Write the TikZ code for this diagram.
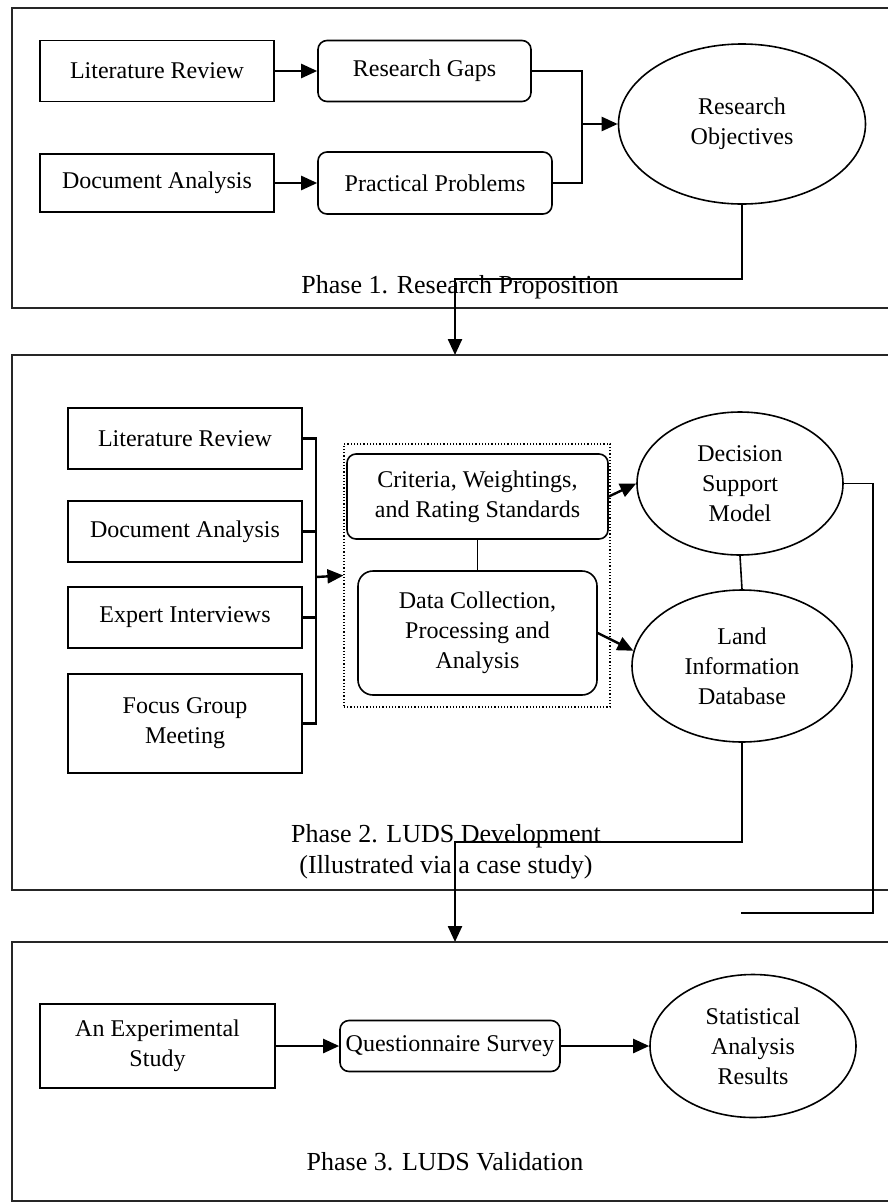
\documentclass[tikz,border=0pt]{standalone}
\usepackage{fontspec}
\setmainfont{Liberation Serif}
\usetikzlibrary{arrows.meta,%
		shapes.geometric,%
		positioning}

\tikzset{
rett/.style={draw, line width=1.6pt, minimum width=234pt, minimum height=61pt, inner sep=0pt, align=center},
arrot/.style={rett, rounded corners=9pt},
ell/.style={draw, ellipse, line width=1.6pt, inner sep=0pt, align=center},
linea/.style={line width=2.4pt},
freccia/.style={line width=2.4pt, -{Triangle[length=16pt,width=14pt]}},
cornice/.style={line width=1.2pt, draw=black!85},
fase/.style={font=\fontsize{26}{31}\selectfont, align=center, inner sep=0pt}
}

\begin{document}
\begin{tikzpicture}[x=1pt,y=-1pt,font=\fontsize{24}{30}\selectfont]
\useasboundingbox (0,0) rectangle (888,1203);
%fase1
\draw[cornice] (888,8) -| (12,308) -- (888,308);
\node[rett] (LR1) at (157,71) {Literature Review};
\node[arrot, minimum width=213pt] (RG) at (424.5,71) {Research Gaps};
\node[rett, minimum height=58pt] (DA1) at (157,183) {Document Analysis};
\node[arrot, minimum height=62pt] (PP) at (435,183) {Practical Problems};
\node[ell, minimum width=247pt, minimum height=160pt] (RO) at (742,124) {Research\\Objectives};
\node[fase, anchor=base] (F1) at (460,293) {Phase 1. Research Proposition};
\coordinate (J1) at (582,124);
\draw[freccia] (LR1) -- (RG);
\draw[freccia] (DA1) -- (PP);
\draw[linea] (RG.east) -| (J1);
\draw[linea] (PP.east) -| (J1);
\draw[freccia] (J1) -- (RO.west);
\coordinate (K1) at (455,279);
\coordinate (K2) at (455,355);
\draw[freccia] (RO.south) |- (K1) -- (K2);
%fase2
\draw[cornice] (888,355) -| (12,890) -- (888,890);
\node[rett] (LR2) at (185,438.5) {Literature Review};
\node[rett] (DA2) at (185,531.5) {Document Analysis};
\node[rett] (EI) at (185,617.5) {Expert Interviews};
\node[rett, minimum height=99pt] (FG) at (185,723.5) {Focus Group\\Meeting};
\node[draw, dotted, line width=1.2pt, minimum width=266pt, minimum height=263pt] (DB) at (477,575.5) {};
\node[arrot, minimum width=261pt, minimum height=85pt] (CW) at (477.5,496.5) {Criteria, Weightings,\\and Rating Standards};
\node[arrot, rounded corners=15pt, minimum width=239pt, minimum height=124pt] (DC) at (477.5,633) {Data Collection,\\Processing and\\Analysis};
\node[ell, minimum width=206pt, minimum height=143pt] (DSM) at (740,483.5) {Decision\\Support\\Model};
\node[ell, minimum width=220pt, minimum height=152pt] (LID) at (742,666) {Land\\Information\\Database};
\node[fase] (F2) at (446,852) {Phase 2. LUDS Development\\(Illustrated via a case study)};
\coordinate (B) at (316,577);
\draw[linea] (LR2.east) -- (LR2.east -| B) -- (FG.east -| B) -- (FG.east);
\draw[linea] (DA2.east) -- (DA2.east -| B);
\draw[linea] (EI.east) -- (EI.east -| B);
\draw[freccia] (B) -- (DB.west);
\draw[line width=1.6pt] (CW.south) -- (DC.north);
\draw[line width=1.6pt] (DSM.south) -- (LID.north);
\draw[freccia] (CW.east) -- (DSM.west);
\draw[freccia] (DC.east) -- (LID.172);
\coordinate (K3) at (455,842);
\coordinate (K4) at (455,942);
\draw[freccia] (LID.south) |- (K3) -- (K4);
\coordinate (M1) at (873,913);
\coordinate (M2) at (741,913);
\draw[line width=1.6pt] (DSM.east) -| (M1) -- (M2);
%fase3
\draw[cornice] (888,942) -| (12,1201) -- (888,1201);
\node[rett, minimum width=235pt, minimum height=84pt] (ES) at (157.5,1046) {An Experimental\\Study};
\node[arrot, minimum width=220pt, minimum height=51pt] (QS) at (450,1046) {Questionnaire Survey};
\node[ell, minimum width=206pt, minimum height=143pt] (SAR) at (753,1046) {Statistical\\Analysis\\Results};
\node[fase, anchor=base] (F3) at (445,1170) {Phase 3. LUDS Validation};
\draw[freccia] (ES) -- (QS);
\draw[freccia] (QS) -- (SAR);
\end{tikzpicture}
\end{document}
